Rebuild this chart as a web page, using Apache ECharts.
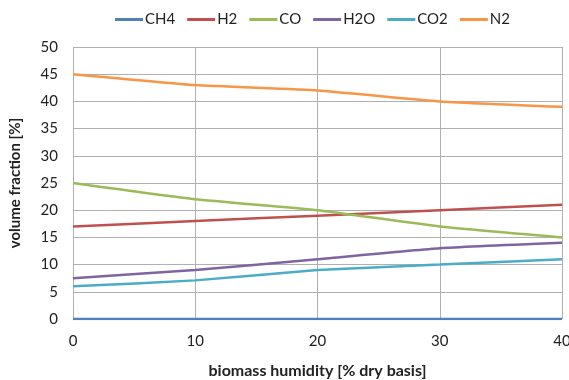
<!DOCTYPE html>
<html><head><meta charset="utf-8">
<script src="https://cdn.jsdelivr.net/npm/echarts@6/dist/echarts.min.js"></script>
<style>html,body{margin:0;padding:0;background:#fff}#c{width:569px;height:380px}</style>
</head><body><div id="c"></div>
<script>
var xValues = [0, 10, 20, 30, 40];
var seriesNames = ['CH4', 'H2', 'CO', 'H2O', 'CO2', 'N2'];
var CH4 = [0, 0, 0, 0, 0];
var H2 = [17, 18, 19, 20, 21];
var CO = [25, 22, 20, 17, 15];
var H2O = [7.5, 9, 11, 13, 14];
var CO2 = [6, 7.1, 9, 10, 11];
var N2 = [45, 43, 42, 40, 39];
var colors = ['#4F81BD', '#C0504D', '#9BBB59', '#8064A2', '#4BACC6', '#F79646'];
var allData = [CH4, H2, CO, H2O, CO2, N2];

var font = 'Lato, "Open Sans", sans-serif';
var chart = echarts.init(document.getElementById('c'));
chart.setOption({
  animation: false,
  color: colors,
  legend: {
    top: 7, left: 110,
    icon: 'rect', itemWidth: 28, itemHeight: 3, itemGap: 12,
    textStyle: {fontFamily: font, fontSize: 15, color: '#222', padding: [0, 0, 0, -3]},
    data: seriesNames
  },
  grid: {left: 73, right: 7, top: 47, bottom: 61, containLabel: false, outerBoundsMode: 'none'},
  xAxis: {
    type: 'value', min: 0, max: 40, interval: 10,
    name: 'biomass humidity [% dry basis]', nameLocation: 'middle', nameGap: 44,
    nameTextStyle: {fontFamily: font, fontSize: 16, fontWeight: 'bold', color: '#222'},
    axisLine: {show: false}, axisTick: {show: false},
    axisLabel: {fontFamily: font, fontSize: 15, color: '#222', margin: 15},
    splitLine: {show: true, lineStyle: {color: '#B0B0B0', width: 1}}
  },
  yAxis: {
    type: 'value', min: 0, max: 50, interval: 5,
    name: 'volume fraction [%]', nameLocation: 'middle', nameGap: 50,
    nameTextStyle: {fontFamily: font, fontSize: 15, fontWeight: 'bold', color: '#222'},
    axisLine: {show: false}, axisTick: {show: false},
    axisLabel: {fontFamily: font, fontSize: 15, color: '#222', margin: 15},
    splitLine: {show: true, lineStyle: {color: '#B0B0B0', width: 1}}
  },
  series: seriesNames.map(function (n, i) {
    return {
      name: n, type: 'line', smooth: 0.15, showSymbol: false, symbol: 'none',
      lineStyle: {width: 2.5, color: colors[i]},
      data: xValues.map(function (x, j) { return [x, allData[i][j]]; })
    };
  })
});
</script></body></html>
